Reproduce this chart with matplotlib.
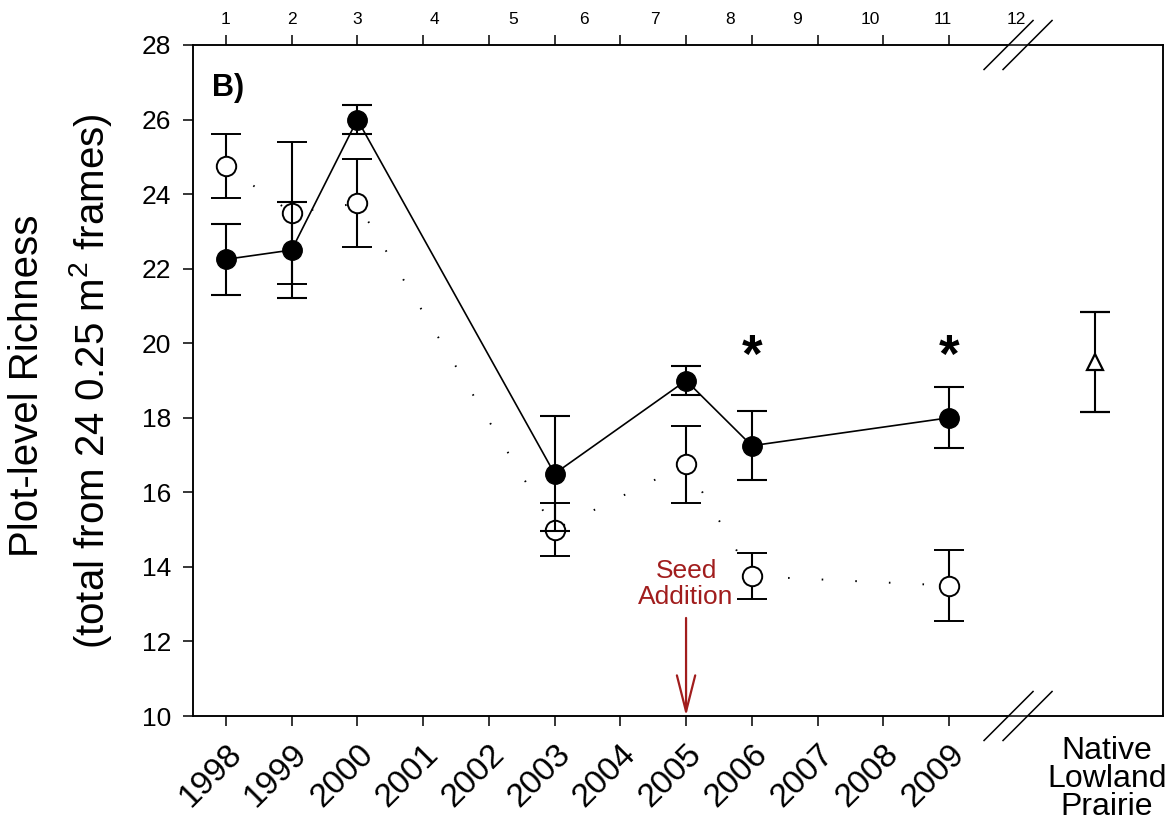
import matplotlib
matplotlib.use("Agg")
import matplotlib.pyplot as plt

plt.rcParams['font.family'] = ['Liberation Sans', 'DejaVu Sans']
plt.rcParams['mathtext.fontset'] = 'custom'
plt.rcParams['mathtext.rm'] = 'Liberation Sans'
plt.rcParams['mathtext.it'] = 'Liberation Sans:italic'

# sampled years and plot-level richness (mean +/- SE)
years = [1998, 1999, 2000, 2003, 2005, 2006, 2009]
seeded = [22.25, 22.5, 26.0, 16.5, 19.0, 17.25, 18.0]
seeded_se = [0.95, 1.3, 0.4, 1.55, 0.4, 0.93, 0.82]
control = [24.75, 23.5, 23.75, 15.0, 16.75, 13.75, 13.5]
control_se = [0.85, 1.9, 1.18, 0.71, 1.03, 0.62, 0.95]
native = [19.5]
native_se = [1.35]
signif_years = [2006, 2009]
seed_year = 2005

year_ticks = list(range(1998, 2010))
year_labels = [str(y) for y in year_ticks]
top_labels = [str(i) for i in range(1, 13)]

# layout
top_label_x = [1998.0, 1999.0, 2000.0, 2001.18, 2002.37, 2003.45,
               2004.53, 2005.67, 2006.69, 2007.8, 2008.9, 2010.03]
native_x = 2011.22
break_x = 2010.05
xmin, xmax = 1997.5, 2012.255
red = '#a11d1d'

fig = plt.figure(figsize=(11.75, 8.39), dpi=100)
ax = fig.add_axes([193/1175, 123/839, 970/1175, 671/839])

# unseeded plots: open circles, dotted line
ax.plot(years, control, color='black', lw=1.4, ls=(0, (0.8, 16.5)),
        zorder=2)
ax.errorbar(years, control, yerr=control_se, fmt='o', ms=14, mfc='white',
            mec='black', mew=1.4, ecolor='black', elinewidth=1.5,
            capsize=10.5, capthick=1.5, zorder=3)

# seeded plots: filled circles, solid line
ax.plot(years, seeded, color='black', lw=1.2, zorder=4)
ax.errorbar(years, seeded, yerr=seeded_se, fmt='o', ms=14, mfc='black',
            mec='black', ecolor='black', elinewidth=1.5,
            capsize=10.5, capthick=1.5, zorder=5)

# native lowland prairie reference
ax.errorbar([native_x], native, yerr=native_se, fmt='^', ms=12,
            mfc='white', mec='black', mew=1.6, ecolor='black',
            elinewidth=1.5, capsize=10.5, capthick=1.5, zorder=5)

for yr in signif_years:
    ax.text(yr, 19.6, '*', ha='center', va='center', fontsize=38,
            fontweight='bold')

ax.text(0.02, 0.936, 'B)', transform=ax.transAxes, fontsize=22,
        fontweight='bold', ha='left', va='center')

# seed addition arrow
ax.annotate('', xy=(seed_year, 10.0), xytext=(seed_year, 12.63),
            arrowprops=dict(arrowstyle='->,head_length=1.3,head_width=0.33',
                            mutation_scale=20, color=red, lw=1.6,
                            shrinkA=0, shrinkB=0),
            annotation_clip=False, zorder=6)
ax.text(seed_year, 13.55, 'Seed\nAddition', color=red, fontsize=19,
        ha='center', va='center', linespacing=1.12)

ax.set_xlim(xmin, xmax)
ax.set_ylim(10, 28)
ax.set_yticks(range(10, 29, 2))
ax.set_xticks(year_ticks)
ax.set_xticklabels(year_labels, rotation=45, ha='right',
                   rotation_mode='anchor', fontsize=24)
ax.tick_params(axis='x', direction='out', length=7.5, width=1.1, pad=9)
ax.tick_params(axis='y', direction='out', length=7.5, width=1.1, pad=8,
               labelsize=19)
for s in ax.spines.values():
    s.set_linewidth(1.1)

ax.text(2011.4, -0.03, 'Native\nLowland\nPrairie', transform=ax.get_xaxis_transform(),
        ha='center', va='top', fontsize=23, linespacing=0.92)

# years since restoration along the top
top = ax.twiny()
top.xaxis.remove_overlapping_locs = False
top.set_xlim(xmin, xmax)
top.set_xticks(year_ticks)
top.set_xticklabels([])
top.set_xticks(top_label_x, minor=True)
top.set_xticklabels(top_labels, minor=True, fontsize=12.5)
top.tick_params(axis='x', which='major', direction='out', length=7.5,
                width=1.1)
top.tick_params(axis='x', which='minor', length=0, pad=13)
for s in top.spines.values():
    s.set_linewidth(1.1)

# axis break marks
fx = (break_x - xmin) / (xmax - xmin)
dx, dy = 24.5 / 970, 24.5 / 671
sep = 19.0 / 970
for yb in (0.0, 1.0):
    ax.plot([fx - sep / 2 - 0.001, fx + sep / 2 + 0.001], [yb, yb],
            transform=ax.transAxes, color='white', lw=3, clip_on=False,
            zorder=10, solid_capstyle='butt')
    for cx in (fx - sep / 2, fx + sep / 2):
        ax.plot([cx - dx, cx + dx], [yb - dy, yb + dy],
                transform=ax.transAxes, color='black', lw=1.1,
                clip_on=False, zorder=11)

fig.text(27/1175, 1 - 386/839, 'Plot-level Richness', rotation=90,
         ha='center', va='center', fontsize=29)
fig.text(91/1175, 1 - 381/839, '(total from 24 0.25 m$^2$ frames)',
         rotation=90, ha='center', va='center', fontsize=29)

fig.savefig('out.png', dpi=100)
